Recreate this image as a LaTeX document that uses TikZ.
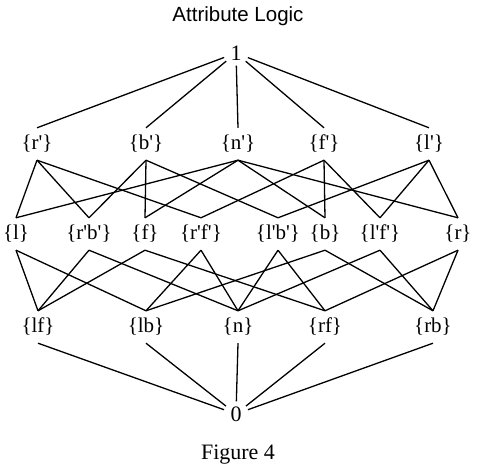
\documentclass[tikz,border=0pt]{standalone}
\usepackage{fontspec}
\newfontfamily\labfont{Liberation Serif}
\newfontfamily\titfont{Liberation Sans}
\begin{document}
\begin{tikzpicture}[x=1pt,y=-1pt,
  lab/.style={inner sep=0pt,text height=15pt,text depth=4pt,minimum height=32pt,font=\labfont\fontsize{21}{23}\selectfont},
  ext/.style={circle,inner sep=0pt,minimum size=25pt,font=\labfont\fontsize{22}{24}\selectfont},
  edge/.style={line width=1.3pt}]
\useasboundingbox (0,0) rectangle (480,473);
\node[font=\titfont\fontsize{20.5}{22}\selectfont,anchor=base] (title) at (238,22) {Attribute Logic};
\node[ext] (one) at (236,53) {1};
\node[lab] (rp) at (37,144) {\{r'\}};
\node[lab] (bp) at (146,144) {\{b'\}};
\node[lab] (np) at (238,144) {\{n'\}};
\node[lab] (fp) at (324,144) {\{f'\}};
\node[lab] (lp) at (429,144) {\{l'\}};
\node[lab] (l) at (16,234) {\{l\}};
\node[lab] (rpbp) at (89,234) {\{r'b'\}};
\node[lab] (f) at (145,234) {\{f\}};
\node[lab] (rpfp) at (201,234) {\{r'f'\}};
\node[lab] (lpbp) at (278,234) {\{l'b'\}};
\node[lab] (b) at (325,234) {\{b\}};
\node[lab] (lpfp) at (380,234) {\{l'f'\}};
\node[lab] (r) at (458,234) {\{r\}};
\node[lab] (lf) at (38,327) {\{lf\}};
\node[lab] (lb) at (146,327) {\{lb\}};
\node[lab] (n) at (238,327) {\{n\}};
\node[lab] (rf) at (325,327) {\{rf\}};
\node[lab] (rb) at (433,327) {\{rb\}};
\node[ext] (zero) at (236,414) {0};
\node[font=\labfont\fontsize{22}{24}\selectfont] (cap) at (238,455) {Figure 4};
\foreach \t in {rp,bp,np,fp,lp} \draw[edge] (one) -- (\t.north);
\foreach \a/\b in {rp/l,rp/rpbp,rp/rpfp,bp/rpbp,bp/f,bp/lpbp,np/l,np/f,np/b,np/r,fp/rpfp,fp/b,fp/lpfp,lp/lpbp,lp/lpfp,lp/r,
  l/lf,l/lb,rpbp/lf,rpbp/n,f/lf,f/rf,rpfp/lb,rpfp/n,lpbp/n,lpbp/rf,b/lb,b/rb,lpfp/n,lpfp/rb,r/rf,r/rb}
  \draw[edge] (\a.south) -- (\b.north);
\foreach \t in {lf,lb,n,rf,rb} \draw[edge] (\t.south) -- (zero);
\end{tikzpicture}
\end{document}
